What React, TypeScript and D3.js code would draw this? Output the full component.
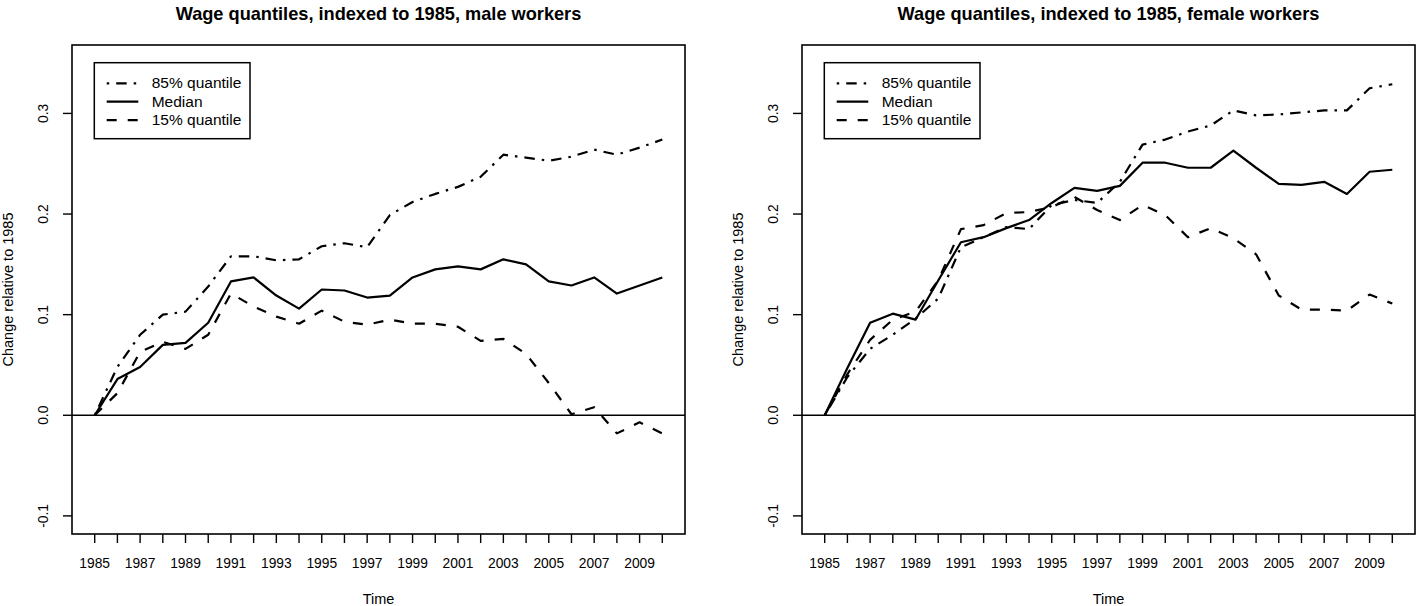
import React from "react";
import * as d3 from "d3";

const years: number[] = d3.range(1985, 2011);
const xTickYears: number[] = d3.range(1985, 2011);
const xLabelYears: number[] = d3.range(1985, 2010, 2);
const yTicks: number[] = [-0.1, 0, 0.1, 0.2, 0.3];
const yTickLabels: string[] = ["-0.1", "0.0", "0.1", "0.2", "0.3"];

const maleQ85: number[] = [0, 0.048, 0.080, 0.100, 0.103, 0.128, 0.158, 0.158, 0.154, 0.155, 0.168, 0.171, 0.167, 0.199, 0.212, 0.220, 0.227, 0.237, 0.259, 0.256, 0.253, 0.257, 0.264, 0.259, 0.266, 0.274];
const maleMedian: number[] = [0, 0.036, 0.048, 0.070, 0.072, 0.092, 0.133, 0.137, 0.119, 0.106, 0.125, 0.124, 0.117, 0.119, 0.137, 0.145, 0.148, 0.145, 0.155, 0.150, 0.133, 0.129, 0.137, 0.121, 0.129, 0.137];
const maleQ15: number[] = [0, 0.022, 0.063, 0.073, 0.066, 0.080, 0.121, 0.108, 0.098, 0.091, 0.104, 0.093, 0.090, 0.095, 0.091, 0.091, 0.088, 0.074, 0.076, 0.061, 0.032, 0.001, 0.008, -0.018, -0.007, -0.018];

const femaleQ85: number[] = [0, 0.038, 0.066, 0.080, 0.096, 0.116, 0.167, 0.177, 0.187, 0.185, 0.209, 0.214, 0.211, 0.232, 0.269, 0.274, 0.282, 0.288, 0.303, 0.298, 0.299, 0.301, 0.303, 0.303, 0.325, 0.329];
const femaleMedian: number[] = [0, 0.047, 0.092, 0.101, 0.095, 0.134, 0.172, 0.177, 0.186, 0.194, 0.211, 0.226, 0.223, 0.228, 0.251, 0.251, 0.246, 0.246, 0.263, 0.246, 0.230, 0.229, 0.232, 0.220, 0.242, 0.244];
const femaleQ15: number[] = [0, 0.041, 0.075, 0.095, 0.103, 0.134, 0.185, 0.189, 0.201, 0.202, 0.207, 0.217, 0.204, 0.194, 0.209, 0.199, 0.177, 0.186, 0.176, 0.160, 0.119, 0.105, 0.105, 0.104, 0.120, 0.111];

const legendLabels: string[] = ["85% quantile", "Median", "15% quantile"];
const titles: string[] = [
  "Wage quantiles, indexed to 1985, male workers",
  "Wage quantiles, indexed to 1985, female workers",
];

const DOTDASH = "2.5,7,10.5,7";
const DASHED = "10,11";
const SOLID = "none";
const dashes = [DOTDASH, SOLID, DASHED];

const FONT = "'Liberation Sans', Arial, Helvetica, sans-serif";

function Panel({ left, title, series }: { left: number; title: string; series: number[][] }) {
  const right = left + 613;
  const top = 45;
  const bottom = 534;
  const x = d3.scaleLinear().domain([1984, 2011]).range([left, right]);
  const y = d3.scaleLinear().domain([-0.1 - 0.018, 0.35 + 0.018]).range([bottom, top]);
  const line = d3
    .line<number>()
    .x((_, i) => x(years[i]))
    .y((d) => y(d));
  const cx = (left + right) / 2;
  const lgX = left + 22.3;
  const lgY = 62.7;
  return (
    <g>
      <text x={cx} y={20} textAnchor="middle" fontFamily={FONT} fontWeight="bold" fontSize={18.2}>
        {title}
      </text>
      <line x1={left} x2={right} y1={y(0)} y2={y(0)} stroke="#000" strokeWidth={1.3} />
      {series.map((s, i) => (
        <path
          key={i}
          d={line(s) || ""}
          fill="none"
          stroke="#000"
          strokeWidth={2.2}
          strokeDasharray={dashes[i] === SOLID ? undefined : dashes[i]}
          strokeLinejoin="round"
        />
      ))}
      <rect x={left} y={top} width={right - left} height={bottom - top} fill="none" stroke="#000" strokeWidth={1.6} />
      {xTickYears.map((yr) => (
        <line key={yr} x1={x(yr)} x2={x(yr)} y1={bottom} y2={bottom + 9} stroke="#000" strokeWidth={1.4} />
      ))}
      {xLabelYears.map((yr) => (
        <text key={yr} x={x(yr)} y={568} textAnchor="middle" fontFamily={FONT} fontSize={13.8}>
          {String(yr)}
        </text>
      ))}
      {yTicks.map((v, i) => (
        <g key={i}>
          <line x1={left - 9} x2={left} y1={y(v)} y2={y(v)} stroke="#000" strokeWidth={1.4} />
          <text
            transform={`translate(${left - 24},${y(v)}) rotate(-90)`}
            textAnchor="middle"
            fontFamily={FONT}
            fontSize={13.8}
          >
            {yTickLabels[i]}
          </text>
        </g>
      ))}
      <text x={cx} y={604} textAnchor="middle" fontFamily={FONT} fontSize={14.5}>
        Time
      </text>
      <text
        transform={`translate(${left - 59},${(top + bottom) / 2}) rotate(-90)`}
        textAnchor="middle"
        fontFamily={FONT}
        fontSize={14.5}
      >
        Change relative to 1985
      </text>
      <rect x={lgX} y={lgY} width={155.7} height={76} fill="#fff" stroke="#000" strokeWidth={1.5} />
      {legendLabels.map((lab, i) => {
        const ry = 83.3 + i * 18.4;
        return (
          <g key={lab}>
            <line
              x1={lgX + 12.4}
              x2={lgX + 44}
              y1={ry}
              y2={ry}
              stroke="#000"
              strokeWidth={2.2}
              strokeDasharray={dashes[i] === SOLID ? undefined : dashes[i]}
            />
            <text x={lgX + 57.4} y={ry + 5} fontFamily={FONT} fontSize={15.5}>
              {lab}
            </text>
          </g>
        );
      })}
    </g>
  );
}

export default function App() {
  return (
    <svg
      width={1416}
      height={606}
      viewBox="0 0 1416 606"
      style={{ position: "absolute", left: 0, top: 0, background: "#fff" }}
    >
      <rect width={1416} height={606} fill="#fff" />
      <Panel left={72} title={titles[0]} series={[maleQ85, maleMedian, maleQ15]} />
      <Panel left={802} title={titles[1]} series={[femaleQ85, femaleMedian, femaleQ15]} />
    </svg>
  );
}
